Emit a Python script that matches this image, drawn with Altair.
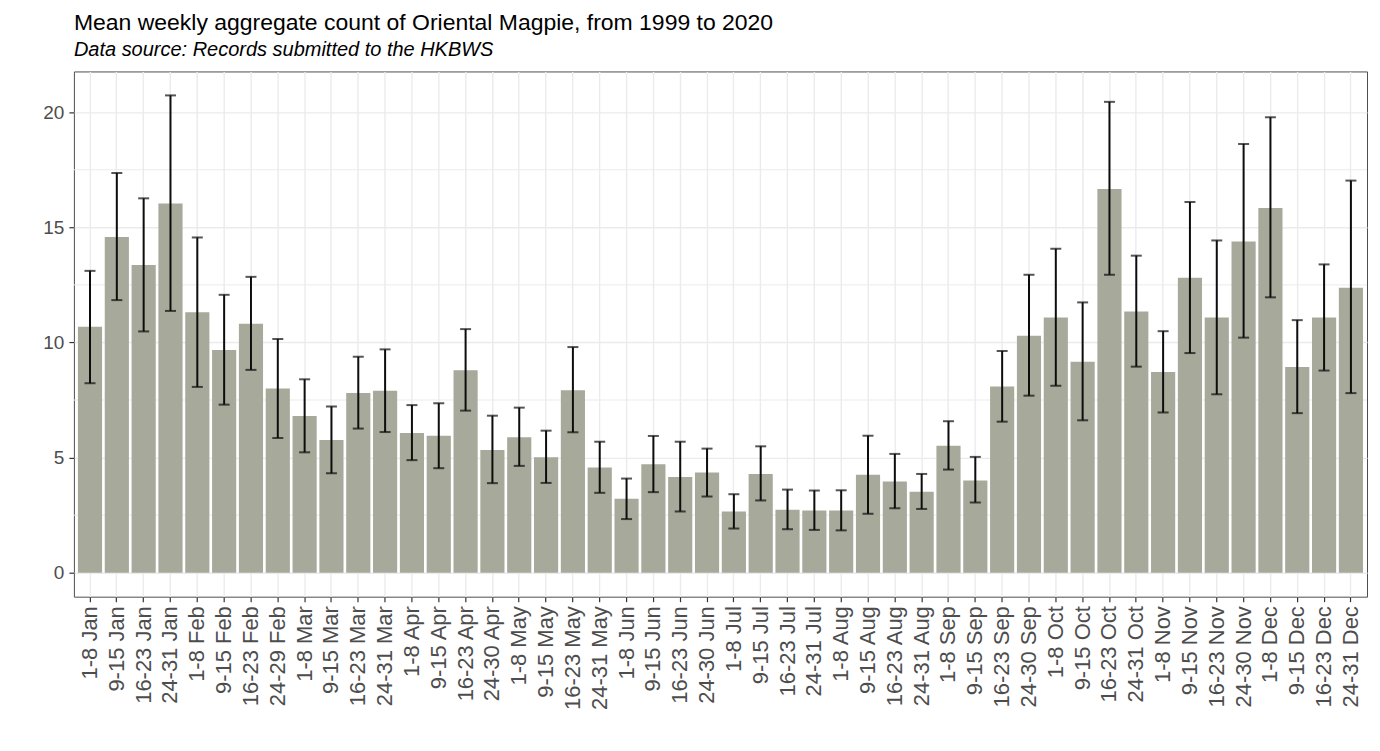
import altair as alt
import pandas as pd

weeks = ["1-8 Jan", "9-15 Jan", "16-23 Jan", "24-31 Jan",
         "1-8 Feb", "9-15 Feb", "16-23 Feb", "24-29 Feb",
         "1-8 Mar", "9-15 Mar", "16-23 Mar", "24-31 Mar",
         "1-8 Apr", "9-15 Apr", "16-23 Apr", "24-30 Apr",
         "1-8 May", "9-15 May", "16-23 May", "24-31 May",
         "1-8 Jun", "9-15 Jun", "16-23 Jun", "24-30 Jun",
         "1-8 Jul", "9-15 Jul", "16-23 Jul", "24-31 Jul",
         "1-8 Aug", "9-15 Aug", "16-23 Aug", "24-31 Aug",
         "1-8 Sep", "9-15 Sep", "16-23 Sep", "24-30 Sep",
         "1-8 Oct", "9-15 Oct", "16-23 Oct", "24-31 Oct",
         "1-8 Nov", "9-15 Nov", "16-23 Nov", "24-30 Nov",
         "1-8 Dec", "9-15 Dec", "16-23 Dec", "24-31 Dec"]

mean_count = [10.68, 14.58, 13.36, 16.04, 11.31, 9.67, 10.81, 8.00,
              6.81, 5.76, 7.81, 7.90, 6.07, 5.95, 8.79, 5.33,
              5.88, 5.01, 7.93, 4.57, 3.21, 4.71, 4.16, 4.35,
              2.66, 4.29, 2.73, 2.70, 2.70, 4.25, 3.96, 3.52,
              5.52, 4.01, 8.09, 10.29, 11.08, 9.16, 16.67, 11.34,
              8.72, 12.81, 11.08, 14.39, 15.84, 8.94, 11.08, 12.38]

lower = [8.23, 11.84, 10.48, 11.37, 8.07, 7.30, 8.81, 5.85,
         5.23, 4.32, 6.26, 6.11, 4.89, 4.54, 7.04, 3.89,
         4.64, 3.90, 6.10, 3.47, 2.33, 3.50, 2.66, 3.31,
         1.92, 3.14, 1.89, 1.86, 1.84, 2.56, 2.80, 2.77,
         4.48, 3.05, 6.56, 7.69, 8.12, 6.62, 12.94, 8.95,
         6.96, 9.54, 7.75, 10.21, 11.96, 6.93, 8.78, 7.80]

upper = [13.11, 17.36, 16.26, 20.73, 14.56, 12.07, 12.85, 10.15,
         8.40, 7.22, 9.38, 9.70, 7.28, 7.36, 10.58, 6.82,
         7.17, 6.17, 9.80, 5.69, 4.09, 5.94, 5.69, 5.39,
         3.41, 5.49, 3.61, 3.57, 3.58, 5.95, 5.16, 4.29,
         6.58, 5.03, 9.63, 12.94, 14.07, 11.74, 20.45, 13.77,
         10.49, 16.10, 14.43, 18.62, 19.78, 10.97, 13.39, 17.03]

major_ticks = [0, 5, 10, 15, 20]
minor_ticks = [2.5, 7.5, 12.5, 17.5]

df = pd.DataFrame({"week": weeks, "mean": mean_count, "lo": lower, "hi": upper})
minor_df = pd.DataFrame({"m": minor_ticks})

W, H = 1295, 526
ydom = [-1.04, 21.77]

xenc = alt.X("week:N", sort=weeks,
             scale=alt.Scale(type="band", paddingInner=0.1, paddingOuter=0.15),
             axis=alt.Axis(title=None, labelAngle=-90, bandPosition=0.5,
                           labelFontSize=22, labelPadding=4))
yscale = alt.Scale(domain=ydom, nice=False, zero=False)
yaxis = alt.Axis(title=None, values=major_ticks, labelFontSize=19, labelPadding=5)

minor = alt.Chart(minor_df).mark_rule(color="#ebebeb", strokeWidth=1).encode(
    y=alt.Y("m:Q", scale=yscale, axis=yaxis),
    x=alt.value(0), x2=alt.value(W))

bars = alt.Chart(df).mark_bar(color="#a7a99a").encode(
    x=xenc,
    y=alt.Y("mean:Q", scale=yscale, axis=yaxis),
    y2=alt.datum(0))

err = alt.Chart(df).mark_rule(color="#0d0d0d", strokeWidth=2).encode(
    x=xenc, y=alt.Y("lo:Q", scale=yscale), y2="hi:Q")

cap_lo = alt.Chart(df).mark_tick(color="#0d0d0d", size=11, thickness=2).encode(
    x=xenc, y=alt.Y("lo:Q", scale=yscale))
cap_hi = alt.Chart(df).mark_tick(color="#0d0d0d", size=11, thickness=2).encode(
    x=xenc, y=alt.Y("hi:Q", scale=yscale))

chart = alt.layer(minor, bars, err, cap_lo, cap_hi).properties(
    width=W, height=H,
    background="white",
    autosize=alt.AutoSizeParams(type="none"),
    padding={"left": 66, "top": 63, "right": 5, "bottom": 150},
    title=alt.Title(
        text="Mean weekly aggregate count of Oriental Magpie, from 1999 to 2020",
        subtitle="Data source: Records submitted to the HKBWS",
        anchor="start", frame="group", font="Liberation Sans", fontSize=23,
        fontWeight="normal", color="#000000",
        subtitleFont="Liberation Sans", subtitleFontSize=20,
        subtitleFontStyle="italic", subtitleColor="#000000",
        subtitlePadding=5.5, offset=11),
).configure_view(
    stroke="#4d4d4d", strokeWidth=1
).configure_axis(
    domain=False, grid=True, gridColor="#ebebeb", gridWidth=1.4,
    tickColor="#333333", tickSize=5, tickWidth=1.2,
    labelFont="Liberation Sans", labelColor="#4d4d4d"
)

chart.save("out.html", embed_options={"renderer": "svg", "actions": False})
